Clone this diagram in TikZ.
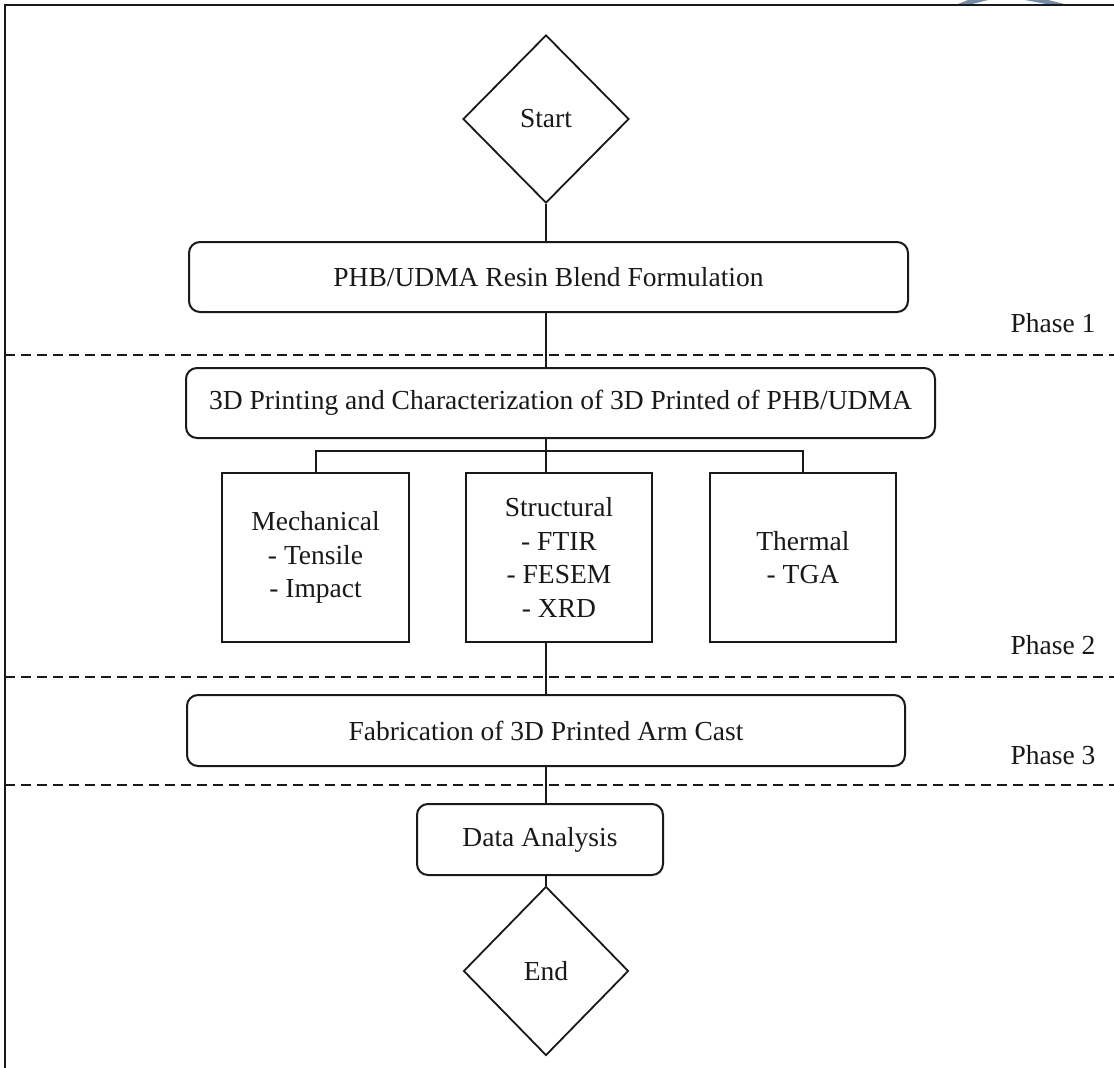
\documentclass[tikz,border=0pt]{standalone}
\usepackage{fontspec}
\setmainfont{Liberation Serif}
\usetikzlibrary{shapes.geometric}
\definecolor{wmark}{RGB}{118,138,162}
\begin{document}
\begin{tikzpicture}[x=1pt,y=-1pt,
  every node/.style={font=\fontsize{27.5}{33.5}\selectfont, text=black!90, inner sep=0pt},
  rbox/.style={draw=black!90, line width=2pt, rounded corners=11pt, minimum height=70pt},
  sbox/.style={draw=black!90, line width=2pt, minimum width=186pt, minimum height=169pt, align=center},
  dia/.style={draw=black!90, line width=1.8pt, diamond, minimum width=166pt, minimum height=168pt},
  conn/.style={draw=black!90, line width=1.7pt},
  sep/.style={draw=black!90, line width=1.8pt, dash pattern=on 10pt off 6pt},
  phase/.style={anchor=center}
]
\useasboundingbox (0,0) rectangle (1114,1068);
\fill[white] (0,0) rectangle (1114,1068);
% watermark fragments
\fill[wmark] (958,4) -- (972,4) -- (988,0) -- (968,0) -- cycle;
\fill[wmark] (1025,0) -- (1048,0) -- (1064,4) -- (1046,4) -- cycle;
% frame
\draw[black!90, line width=2.6pt] (5,1068) -- (5,5) -- (1114,5);
% trunk coordinate
\coordinate (t) at (546,0);
% phase separators
\coordinate (s1a) at (5,355);  \coordinate (s1b) at (1114,355);
\coordinate (s2a) at (5,677);  \coordinate (s2b) at (1114,677);
\coordinate (s3a) at (5,785);  \coordinate (s3b) at (1114,785);
\draw[sep] (s1a) -- (s1b);
\draw[sep] (s2a) -- (s2b);
\draw[sep] (s3a) -- (s3b);
% nodes
\node[dia] (start) at (546,119) {Start};
\node[rbox, minimum width=719pt] (blend) at (548.5,277) {PHB/UDMA Resin Blend Formulation};
\node[rbox, minimum width=749pt] (print) at (560.5,403) {3D Printing and Characterization of 3D Printed of PHB/UDMA};
\node[sbox, minimum width=187pt] (mech) at (315.5,557.5) {Mechanical\\- Tensile\\- Impact};
\node[sbox] (struct) at (559,557.5) {Structural\\- FTIR\\- FESEM\\- XRD};
\node[sbox] (therm) at (803,557.5) {Thermal\\- TGA};
\node[rbox, minimum width=718pt, minimum height=71pt] (fab) at (546,730.5) {Fabrication of 3D Printed Arm Cast};
\node[rbox, minimum width=246pt, minimum height=71pt] (data) at (540,839.5) {Data Analysis};
\node[dia, minimum width=165pt, minimum height=169pt] (end) at (546,971) {End};
\node[phase] (p1) at (1053,323) {Phase 1};
\node[phase] (p2) at (1053,645) {Phase 2};
\node[phase] (p3) at (1053,755) {Phase 3};
% connectors
\coordinate (bus) at (546,451);
\coordinate (mx) at (316,0);
\draw[conn] (start.south) -- (blend.north -| start.south);
\draw[conn] (blend.south -| t) -- (print.north -| t);
\draw[conn] (print.south -| t) -- (bus);
\draw[conn] (mech.north -| mx) |- (bus) -| (therm.north);
\draw[conn] (bus) -- (struct.north -| t);
\draw[conn] (struct.south -| t) -- (fab.north -| t);
\draw[conn] (fab.south -| t) -- (data.north -| t);
\draw[conn] (data.south -| t) -- (end.north);
\end{tikzpicture}
\end{document}
